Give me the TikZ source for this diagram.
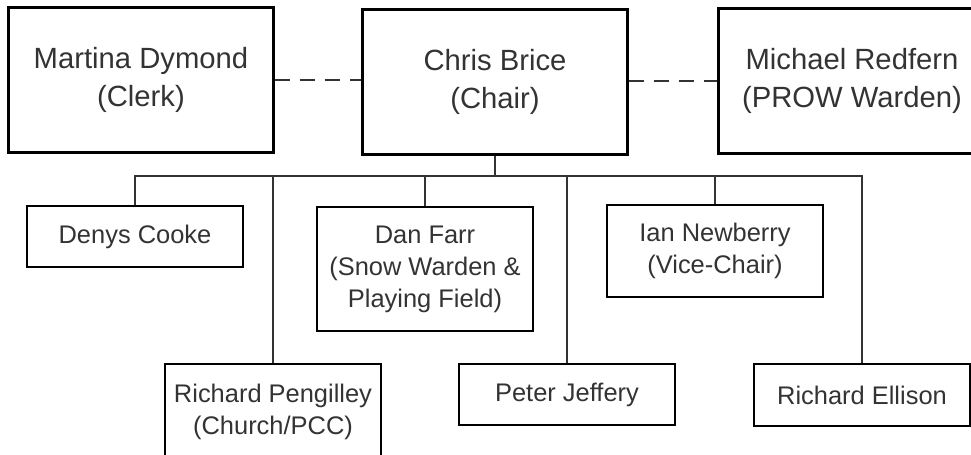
\documentclass[tikz,border=0pt]{standalone}
\usepackage{fontspec}
\setmainfont{Liberation Sans}
\tikzset{
  headbox/.style={draw=black,line width=0.75mm,minimum width=66mm,minimum height=36.25mm,
    inner sep=0pt,align=center,text=black!80,font=\fontsize{20.8}{27}\selectfont},
  memberbox/.style={draw=black,line width=0.7mm,minimum width=54mm,
    inner sep=0pt,align=center,text=black!80,font=\fontsize{18.1}{22.8}\selectfont},
  link/.style={draw=black!80,line width=0.5mm},
  dashlink/.style={link,dash pattern=on 3.75mm off 2.5mm},
}
\begin{document}
\begin{tikzpicture}[x=0.25mm,y=-0.25mm]
\useasboundingbox (0,0) rectangle (971,454);
% top row
\node[headbox] (clerk) at (141,79.5) {Martina Dymond\\(Clerk)};
\node[headbox] (chair) at (495,81.5) {Chris Brice\\(Chair)};
\node[headbox,minimum width=67mm] (prow) at (852,81) {Michael Redfern\\(PROW Warden)};
% councillors
\node[memberbox,minimum height=15.25mm] (denys) at (135,236.5) {Denys Cooke};
\node[memberbox,minimum height=31mm] (dan) at (425,269) {Dan Farr\\(Snow Warden \&\\Playing Field)};
\node[memberbox,minimum height=23mm] (ian) at (715,251) {Ian Newberry\\(Vice-Chair)};
\node[memberbox,minimum height=24mm] (pengilley) at (273,412) {Richard Pengilley\\(Church/PCC)};
\node[memberbox,minimum height=15.25mm] (peter) at (567,394.5) {Peter Jeffery};
\node[memberbox,minimum height=15.5mm] (ellison) at (862,395) {Richard Ellison};
% dashed links
\path[dashlink] (clerk.east) -- (clerk.east -| chair.west);
\path[dashlink] (chair.east |- prow.west) -- (prow.west);
% tree
\coordinate (busy) at (0,176);
\coordinate (bus) at (chair.south |- busy);
\path[link] (chair.south) -- (bus);
\foreach \m in {denys,pengilley,dan,peter,ian,ellison}
  \path[link] (bus) -| (\m.north);
\end{tikzpicture}
\end{document}
